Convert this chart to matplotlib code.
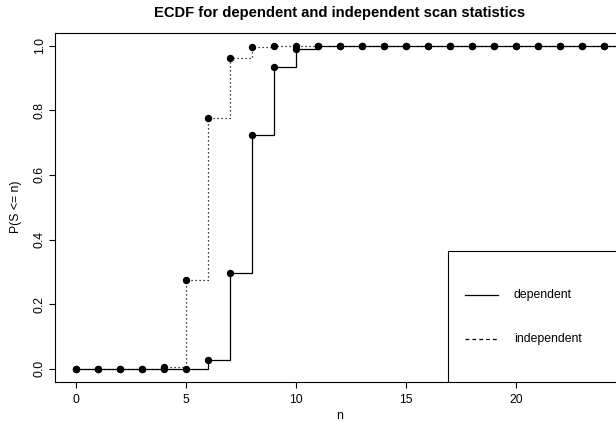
import matplotlib
matplotlib.use("Agg")
import matplotlib.pyplot as plt
from matplotlib.patches import Rectangle

plt.rcParams['font.family'] = ['Liberation Sans', 'DejaVu Sans']

# values
n_vals = list(range(0, 25))
dependent = [0.0, 0.0, 0.0, 0.0, 0.0, 0.0, 0.026, 0.295, 0.722, 0.935, 0.989] + [1.0] * 14
independent = [0.0, 0.0, 0.0, 0.0, 0.006, 0.274, 0.776, 0.961, 0.996, 0.999, 1.0] + [1.0] * 14
series_labels = ["dependent", "independent"]
x_ticks = [0, 5, 10, 15, 20]
y_ticks = [0.0, 0.2, 0.4, 0.6, 0.8, 1.0]

fig = plt.figure(figsize=(6.16, 4.25), dpi=100)
ax = fig.add_axes([55 / 616, 1 - 381.7 / 425, 570 / 616, 349 / 425])

lw = 0.9
ms = 4.3
fs = 8.8

# step lines (extend last level off to the right edge)
x_ext = n_vals + [n_vals[-1] + 1]
ax.step(x_ext, independent + [independent[-1]], where='post', color='black',
        lw=lw, linestyle=(0, (1, 2.2)))
ax.plot(n_vals, independent, 'o', color='black', ms=ms)
ax.step(x_ext, dependent + [dependent[-1]], where='post', color='black', lw=lw)
ax.plot(n_vals, dependent, 'o', color='black', ms=ms)

ax.set_xlim(-0.96, 24.96)
ax.set_ylim(-0.04, 1.04)
ax.set_xticks(x_ticks)
ax.set_yticks(y_ticks)
ax.set_yticklabels([f"{v:.1f}" for v in y_ticks], rotation=90, va='center')
ax.tick_params(axis='both', labelsize=fs, length=4.5, width=0.8, direction='out')
ax.tick_params(axis='x', pad=4)
ax.tick_params(axis='y', pad=2)
for s in ax.spines.values():
    s.set_linewidth(0.8)

# axis labels and title, placed like R's margins
ax.text(0.5, -0.098, "n", transform=ax.transAxes, fontsize=fs,
        ha='center', va='center')
ax.text(-0.0684, 0.5, "P(S <= n)", transform=ax.transAxes, fontsize=fs,
        ha='center', va='center', rotation=90)
ax.text(0.5, (381.7 - 13) / 349, "ECDF for dependent and independent scan statistics",
        transform=ax.transAxes, fontsize=10.6, fontweight='bold',
        ha='center', va='center')

# legend box, bottom right, R style
ax.add_patch(Rectangle((0.689, 0.0), 0.4, 0.3745, transform=ax.transAxes,
                       facecolor='white', edgecolor='black', lw=0.8, zorder=5))
leg_y = [0.248, 0.122]
leg_styles = ['-', (0, (3, 2.5))]
for lab, yy, ls in zip(series_labels, leg_y, leg_styles):
    ax.plot([0.719, 0.777], [yy, yy], transform=ax.transAxes, color='black',
            lw=lw, linestyle=ls, zorder=6)
    ax.text(0.805, yy, lab, transform=ax.transAxes, fontsize=fs,
            va='center', ha='left', zorder=6)

fig.savefig("out.png", dpi=100)
